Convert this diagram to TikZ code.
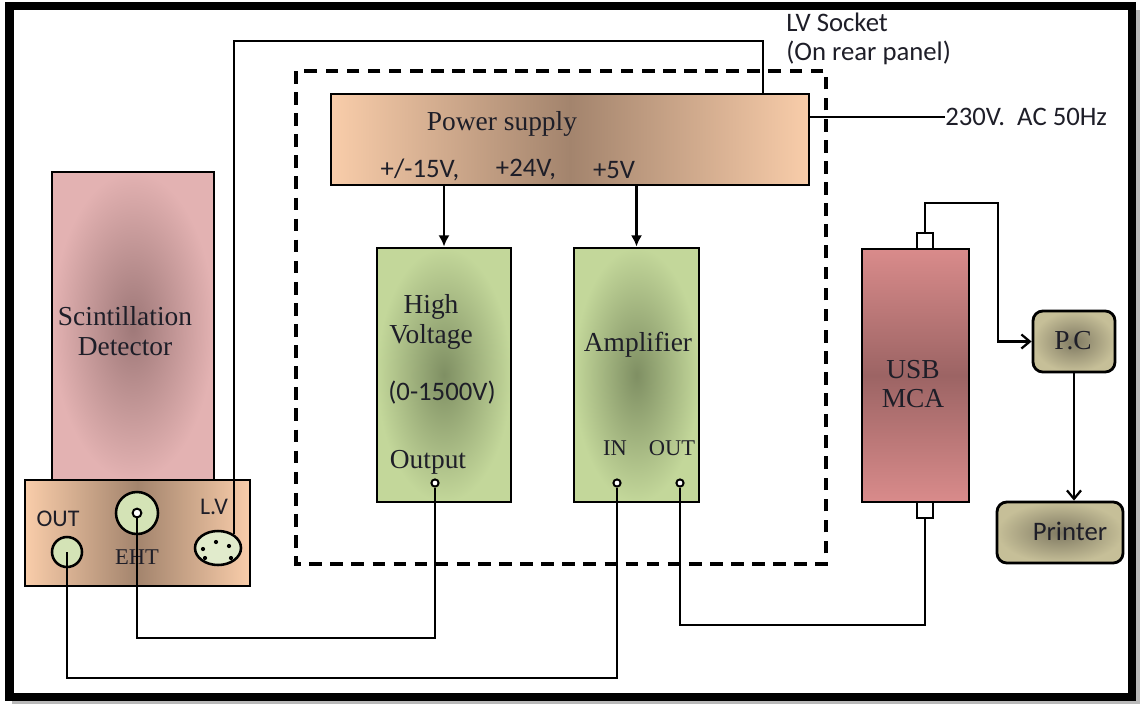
\documentclass[tikz,border=0pt]{standalone}
\usepackage{fontspec}
\setmainfont{Liberation Serif}
\setsansfont{Carlito}
\usetikzlibrary{arrows.meta,shapes.geometric}

\definecolor{peachout}{HTML}{F9CDAA}
\definecolor{peachin}{HTML}{A3846D}
\definecolor{pinkout}{HTML}{E3B2B2}
\definecolor{pinkin}{HTML}{9E7878}
\definecolor{greenout}{HTML}{C3D79A}
\definecolor{greenin}{HTML}{7F8F63}
\definecolor{redout}{HTML}{D98B8B}
\definecolor{redin}{HTML}{9C6464}
\definecolor{oliveout}{HTML}{C6BF98}
\definecolor{olivein}{HTML}{7F7962}
\definecolor{plug}{HTML}{D4E3B6}
\definecolor{ink}{HTML}{1E1E28}

\tikzset{
  unit/.style={draw, line width=2pt, inner sep=0pt},
  peach/.style={left color=peachout, right color=peachout, middle color=peachin},
  pinkish/.style={inner color=pinkin, outer color=pinkout},
  greenish/.style={inner color=greenin, outer color=greenout},
  reddish/.style={top color=redout, bottom color=redout, middle color=redin},
  olive/.style={inner color=olivein, outer color=oliveout, rounded corners=7pt},
  socket/.style={draw, line width=1.8pt, fill=plug, inner sep=0pt},
  pin/.style={circle, draw, line width=1.4pt, fill=white, minimum size=0.18cm, inner sep=0pt},
  usbport/.style={draw, line width=1.6pt, fill=white, minimum size=0.4cm, inner sep=0pt},
  wire/.style={line width=1.6pt},
  housing/.style={line width=2.2pt, dash pattern=on 9pt off 6pt},
  serif/.style={text=ink, inner sep=0pt, font=\fontsize{19.5}{21}\selectfont},
  sans/.style={text=ink, inner sep=0pt, font=\sffamily\fontsize{19}{22}\selectfont},
  smallserif/.style={text=ink, inner sep=0pt, font=\fontsize{16}{18}\selectfont},
  smallsans/.style={text=ink, inner sep=0pt, font=\sffamily\fontsize{17}{19}\selectfont},
  feed/.style={wire, -{Latex[length=8pt,width=8pt]}},
  link/.style={wire, -{Straight Barb[length=6pt,width=10pt]}}
}

\begin{document}
\begin{tikzpicture}[x=0.025cm, y=-0.025cm]
\useasboundingbox (0,0) rectangle (1143,704);

% outer frame with shadow
\draw[line width=3pt, gray!55] (1137.5,10) -- (1137.5,702) -- (12,702);
\draw[line width=0.2cm] (9.5,5.5) rectangle (1131.5,696.5);

% instrument housing
\draw[housing] (296,71) rectangle (826,564);

% detector
\node[unit, pinkish, minimum width=4.05cm, minimum height=7.7cm] (tube) at (133,326) {};
\node[serif, align=center] (tubetxt) at (125,331) {Scintillation\\Detector};
\node[unit, peach, minimum width=5.625cm, minimum height=2.65cm] (base) at (137.5,533) {};
\node[socket, circle, minimum size=0.75cm] (detout) at (67,552) {};
\node[socket, circle, minimum size=1.05cm] (eht) at (137,513) {};
\node[pin, minimum size=0.22cm] (ehtpin) at (137,513) {};
\node[socket, ellipse, fill=plug!70!white, minimum width=1.15cm, minimum height=0.85cm] (lv) at (218,548) {};
\foreach \dx/\dy in {-15/1,-2/-6,11/-2,-13/10,13/10}
  \fill ([shift={(\dx,\dy)}]lv.center) circle (1.5pt);
\node[smallsans] (outtxt) at (58,519) {OUT};
\node[smallsans] (lvtxt) at (214,507) {L.V};
\node[smallserif] (ehttxt) at (137,557) {EHT};

% power supply
\node[unit, peach, minimum width=11.95cm, minimum height=2.275cm] (ps) at (570,139.5) {};
\node[serif] (pstxt) at (502,124) {Power supply};
\node[sans] (v15) at (420,170) {+/-15V,};
\node[sans] (v24) at (526,170) {+24V,};
\node[sans] (v5) at (614,170) {+5V};

% high voltage unit
\node[unit, greenish, minimum width=3.35cm, minimum height=6.35cm] (hv) at (444,375) {};
\node[serif, align=center] (hvtxt) at (431,322) {High\\Voltage};
\node[sans] (hvrange) at (442,393) {(0-1500V)};
\node[serif] (hvouttxt) at (428,462) {Output};
\node[pin] (hvout) at (435,483) {};

% amplifier
\node[unit, greenish, minimum width=3.125cm, minimum height=6.35cm] (amp) at (636.5,375) {};
\node[serif] (amptxt) at (638,345) {Amplifier};
\node[smallserif] (intxt) at (615,448) {IN};
\node[smallserif] (ampouttxt) at (672,448) {OUT};
\node[pin] (ampin) at (617,483) {};
\node[pin] (ampout) at (680,483) {};

% multichannel analyser
\node[unit, reddish, minimum width=2.675cm, minimum height=6.325cm] (mca) at (915.5,375.5) {};
\node[serif, align=center] (mcatxt) at (913,384) {USB\\MCA};
\node[usbport] (mcatop) at (925,241) {};
\node[usbport] (mcabot) at (925,510) {};

% computer and printer
\node[unit, olive, minimum width=2.05cm, minimum height=1.525cm] (pc) at (1074,341.5) {};
\node[serif] (pctxt) at (1073,341) {P.C};
\node[unit, olive, minimum width=3.15cm, minimum height=1.525cm] (printer) at (1060,532.5) {};
\node[sans] (printertxt) at (1070,531) {Printer};

% rear panel labels
\node[sans, anchor=west] (lvsock) at (786,22) {LV Socket};
\node[sans, anchor=west] (rear) at (786,53) {(On rear panel)};
\node[sans, anchor=west] (mains) at (945,117) {230V.\ \ AC 50Hz};

% routing points
\coordinate (lvtop) at (763,41);
\coordinate (ehtlow) at (0,638);
\coordinate (outlow) at (0,678);
\coordinate (amplow) at (0,625);
\coordinate (usbup) at (998,203);

% supply lines
\draw[feed] (hv.north |- ps.south) -- (hv.north);
\draw[feed] (amp.north |- ps.south) -- (amp.north);
\draw[wire] (ps.east |- mains.west) -- (mains.west);
\draw[wire] (lv.40) |- (lvtop) -- (lvtop |- ps.north);

% signal cables
\draw[wire] (ehtpin.south) -- (ehtpin.south |- ehtlow) -| (hvout.south);
\draw[wire] (detout.center) -- (detout.center |- outlow) -| (ampin.south);
\draw[wire] (ampout.south) -- (ampout.south |- amplow) -| (mcabot.south);
\draw[link] (mcatop.north) -- (mcatop.north |- usbup) -- (usbup) |- (pc.west);
\draw[link] (pc.south) -- (pc.south |- printer.north);
\end{tikzpicture}
\end{document}
